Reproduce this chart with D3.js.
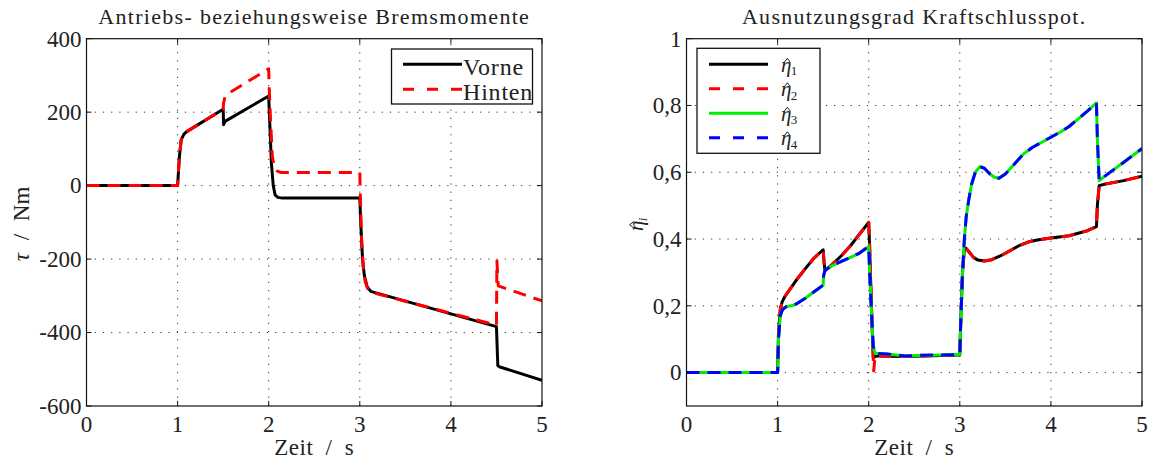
<!DOCTYPE html>
<meta charset="utf-8">
<head>
	<title>Antriebsmomente und Kraftschluss</title>
</head>

<style>
	body { margin: 0; background: #fff; }
	svg text { font-family: "Liberation Serif", "DejaVu Serif", serif; fill: #222; }
	.grid line { stroke: #333; stroke-width: 1; stroke-dasharray: 1.2,7; }
	.frame { fill: none; stroke: #111; stroke-width: 1.2; }
	.tick { stroke: #111; stroke-width: 1; }
</style>

<body>

<svg id="chart" width="1156" height="463" font-family="Liberation Serif, serif"></svg>

<script src="https://d3js.org/d3.v7.min.js"></script>
<script>

	// linkes Diagramm: Momente in Nm
	var tVorne = [0, 1.0, 1.02, 1.04, 1.07, 1.1, 1.5, 1.505, 1.52, 2.0, 2.01, 2.03, 2.05, 2.07, 2.1, 2.15, 3.0, 3.01, 3.03, 3.05, 3.08, 3.12, 4.5, 4.515, 4.53, 5.0];
	var tauVorne = [0, 0, 80, 125, 140, 147, 208, 166, 175, 244, 180, 60, 0, -25, -32, -34, -34, -100, -200, -245, -275, -288, -384, -490, -493, -530];

	var tHinten = [0, 1.0, 1.02, 1.04, 1.07, 1.1, 1.5, 1.505, 1.52, 1.55, 2.0, 2.003, 2.02, 2.04, 2.06, 2.09, 2.13, 3.0, 3.005, 3.02, 3.04, 3.06, 3.09, 3.12, 4.5, 4.505, 4.52, 5.0];
	var tauHinten = [0, 0, 80, 125, 140, 147, 208, 225, 242, 250, 318, 280, 180, 80, 50, 40, 36, 36, -20, -150, -230, -262, -282, -290, -380, -205, -273, -314];

	// rechtes Diagramm: Ausnutzungsgrade
	var tEta1 = [0, 1.0, 1.01, 1.03, 1.05, 1.08, 1.1, 1.15, 1.2, 1.3, 1.4, 1.5, 1.51, 1.52, 1.6, 1.7, 1.8, 1.9, 2.0, 2.01, 2.03, 2.05, 2.07, 2.1, 2.2, 2.4, 2.6, 3.0, 3.01, 3.03, 3.05, 3.07, 3.1, 3.15, 3.2, 3.27, 3.35, 3.45, 3.55, 3.65, 3.75, 3.85, 4.0, 4.2, 4.4, 4.5, 4.51, 4.53, 4.6, 4.8, 5.0];
	var eta1 = [0, 0, 0.12, 0.19, 0.212, 0.228, 0.236, 0.255, 0.275, 0.31, 0.343, 0.368, 0.33, 0.305, 0.324, 0.35, 0.38, 0.415, 0.45, 0.38, 0.2, 0.045, 0.048, 0.05, 0.049, 0.048, 0.05, 0.053, 0.15, 0.3, 0.37, 0.372, 0.362, 0.345, 0.337, 0.334, 0.338, 0.35, 0.365, 0.38, 0.391, 0.397, 0.403, 0.41, 0.425, 0.437, 0.5, 0.56, 0.565, 0.575, 0.588];

	var tEta2 = [0, 1.0, 1.01, 1.03, 1.05, 1.08, 1.1, 1.15, 1.2, 1.3, 1.4, 1.5, 1.51, 1.52, 1.6, 1.7, 1.8, 1.9, 2.0, 2.01, 2.03, 2.055, 2.07, 2.1, 2.2, 2.4, 2.6, 3.0, 3.01, 3.03, 3.05, 3.07, 3.1, 3.15, 3.2, 3.27, 3.35, 3.45, 3.55, 3.65, 3.75, 3.85, 4.0, 4.2, 4.4, 4.5, 4.51, 4.53, 4.6, 4.8, 5.0];
	var eta2 = [0, 0, 0.12, 0.19, 0.212, 0.228, 0.236, 0.255, 0.275, 0.31, 0.343, 0.368, 0.33, 0.305, 0.324, 0.35, 0.38, 0.415, 0.45, 0.38, 0.2, 0.005, 0.05, 0.05, 0.049, 0.048, 0.05, 0.053, 0.15, 0.3, 0.37, 0.372, 0.362, 0.345, 0.337, 0.334, 0.338, 0.35, 0.365, 0.38, 0.391, 0.397, 0.403, 0.41, 0.425, 0.437, 0.5, 0.56, 0.565, 0.575, 0.588];

	var tEta3 = [0, 1.0, 1.01, 1.03, 1.05, 1.07, 1.1, 1.15, 1.2, 1.3, 1.4, 1.5, 1.505, 1.52, 1.6, 1.7, 1.8, 1.9, 2.0, 2.01, 2.03, 2.05, 2.07, 2.1, 2.2, 2.4, 2.6, 2.8, 3.0, 3.01, 3.03, 3.05, 3.07, 3.1, 3.13, 3.17, 3.22, 3.27, 3.33, 3.38, 3.43, 3.5, 3.6, 3.7, 3.8, 3.9, 4.0, 4.1, 4.2, 4.3, 4.4, 4.5, 4.51, 4.53, 4.6, 4.8, 5.0];
	var eta3 = [0, 0, 0.1, 0.17, 0.186, 0.193, 0.198, 0.2, 0.205, 0.222, 0.242, 0.262, 0.29, 0.307, 0.32, 0.333, 0.345, 0.358, 0.378, 0.3, 0.18, 0.08, 0.058, 0.057, 0.056, 0.05, 0.052, 0.053, 0.054, 0.15, 0.3, 0.4, 0.466, 0.52, 0.565, 0.6, 0.617, 0.612, 0.595, 0.585, 0.582, 0.595, 0.625, 0.655, 0.675, 0.69, 0.705, 0.72, 0.737, 0.76, 0.783, 0.808, 0.7, 0.575, 0.59, 0.63, 0.671];

	var tEta4 = tEta3.slice();
	var eta4 = [0, 0, 0.1, 0.17, 0.186, 0.193, 0.198, 0.2, 0.205, 0.222, 0.242, 0.262, 0.29, 0.307, 0.32, 0.333, 0.345, 0.358, 0.378, 0.3, 0.18, 0.08, 0.058, 0.057, 0.056, 0.05, 0.052, 0.053, 0.054, 0.15, 0.3, 0.4, 0.466, 0.52, 0.565, 0.6, 0.617, 0.612, 0.595, 0.585, 0.582, 0.595, 0.625, 0.655, 0.675, 0.69, 0.705, 0.72, 0.737, 0.76, 0.783, 0.808, 0.7, 0.575, 0.59, 0.63, 0.671];

	var timeTicks = [0, 1, 2, 3, 4, 5];
	var tauTicks = [-600, -400, -200, 0, 200, 400];
	var etaTicks = [0, 0.2, 0.4, 0.6, 0.8, 1];

	var svg = d3.select("#chart");

	function zip(ts, vs) {
		return ts.map(function(t, i) { return [t, vs[i]]; });
	}

	function drawPanel(p) {
		var x = d3.scaleLinear().domain([0, 5]).range([p.left, p.right]);
		var y = d3.scaleLinear().domain(p.yDomain).range([406, 38.7]);
		var g = svg.append("g");

		// Gitter
		var grid = g.append("g").classed("grid", true);
		grid.selectAll(".gx").data(timeTicks.slice(1, -1)).enter().append("line")
			.attr("x1", function(d) { return x(d); }).attr("x2", function(d) { return x(d); })
			.attr("y1", y.range()[0]).attr("y2", y.range()[1]);
		grid.selectAll(".gy").data(p.yTicks.filter(function(d) { return y(d) > 40 && y(d) < 404; })).enter().append("line")
			.attr("x1", p.left).attr("x2", p.right)
			.attr("y1", function(d) { return y(d); }).attr("y2", function(d) { return y(d); });

		// kleine Ticks innen, auf allen vier Seiten
		timeTicks.forEach(function(d) {
			g.append("line").classed("tick", true).attr("x1", x(d)).attr("x2", x(d)).attr("y1", 406).attr("y2", 401);
			g.append("line").classed("tick", true).attr("x1", x(d)).attr("x2", x(d)).attr("y1", 38.7).attr("y2", 43.7);
			g.append("text").attr("x", x(d)).attr("y", 432).attr("text-anchor", "middle")
				.style("font-size", "23px").text(d);
		});
		p.yTicks.forEach(function(d) {
			g.append("line").classed("tick", true).attr("x1", p.left).attr("x2", p.left + 5).attr("y1", y(d)).attr("y2", y(d));
			g.append("line").classed("tick", true).attr("x1", p.right).attr("x2", p.right - 5).attr("y1", y(d)).attr("y2", y(d));
			g.append("text").attr("x", p.left - 5).attr("y", y(d)).attr("dy", "0.34em").attr("text-anchor", "end")
				.style("font-size", "23px").text(p.fmt(d));
		});

		// Kurven
		var clipId = "clip" + Math.round(p.left);
		g.append("clipPath").attr("id", clipId).append("rect")
			.attr("x", p.left).attr("y", 38.7).attr("width", p.right - p.left).attr("height", 406 - 38.7);
		var line = d3.line().x(function(d) { return x(d[0]); }).y(function(d) { return y(d[1]); });
		p.series.forEach(function(s) {
			g.append("path").datum(zip(s.t, s.v))
				.attr("clip-path", "url(#" + clipId + ")")
				.attr("d", line)
				.attr("fill", "none")
				.attr("stroke", s.color)
				.attr("stroke-width", 3)
				.attr("stroke-linejoin", "round")
				.attr("stroke-dasharray", s.dash ? "13,8" : null);
		});

		g.append("rect").classed("frame", true)
			.attr("x", p.left).attr("y", 38.7).attr("width", p.right - p.left).attr("height", 406 - 38.7);

		var mid = (p.left + p.right) / 2;
		g.append("text").attr("x", mid).attr("y", 24).attr("text-anchor", "middle")
			.style("font-size", "22px").style("letter-spacing", "1.3px").text(p.title);
		g.append("text").attr("x", mid).attr("y", 455).attr("text-anchor", "middle")
			.style("font-size", "23px").style("letter-spacing", "0.5px").style("word-spacing", "6px").text("Zeit / s");
		return g;
	}

	// eta mit Dach und Index; das Dach als kleiner Pfad
	function hatEta(g, xPos, yPos, sub, size, rotate) {
		var t = g.append("g").attr("transform", "translate(" + xPos + "," + yPos + ")" + (rotate ? " rotate(-90)" : ""));
		t.append("text").attr("x", 0).attr("y", 0).style("font-size", size + "px").style("font-style", "italic").text("η");
		var hx = size * 0.3, hy = -size * 0.44;
		t.append("path")
			.attr("d", "M" + (hx - size * 0.15) + "," + hy + "L" + hx + "," + (hy - size * 0.2) + "L" + (hx + size * 0.15) + "," + hy)
			.attr("fill", "none").attr("stroke", "#222").attr("stroke-width", 1);
		t.append("text").attr("x", size * 0.47).attr("y", size * 0.17).style("font-size", size * 0.62 + "px")
			.style("font-style", sub == "i" ? "italic" : "normal").text(sub);
	}

	var left = drawPanel({
		left: 86.5, right: 542, yDomain: [-600, 400], yTicks: tauTicks,
		fmt: function(d) { return d; },
		title: "Antriebs- beziehungsweise Bremsmomente",
		series: [
			{ t: tVorne, v: tauVorne, color: "#000", dash: false },
			{ t: tHinten, v: tauHinten, color: "#ff0000", dash: true }
		]
	});

	var right = drawPanel({
		left: 686.5, right: 1142, yDomain: [-0.1, 1], yTicks: etaTicks,
		fmt: function(d) { return d3.format("")(d).replace(".", ","); },
		title: "Ausnutzungsgrad Kraftschlusspot.",
		series: [
			{ t: tEta1, v: eta1, color: "#000", dash: false },
			{ t: tEta2, v: eta2, color: "#ff0000", dash: true },
			{ t: tEta3, v: eta3, color: "#00ee00", dash: false },
			{ t: tEta4, v: eta4, color: "#0000ff", dash: true }
		]
	});

	// Achsbeschriftungen y
	left.append("text").attr("transform", "translate(29,224) rotate(-90)").attr("text-anchor", "middle")
		.style("font-size", "23px").style("word-spacing", "7px")
		.html('<tspan font-style="italic">τ</tspan> / Nm');
	hatEta(right, 643, 231, "i", 21, true);

	// Legenden
	var legL = [{ name: "Vorne", color: "#000", dash: false }, { name: "Hinten", color: "#ff0000", dash: true }];
	left.append("rect").attr("x", 391.5).attr("y", 49).attr("width", 141).attr("height", 55)
		.attr("fill", "#fff").attr("stroke", "#111").attr("stroke-width", 1.3);
	legL.forEach(function(d, i) {
		var yy = 64.3 + i * 25;
		left.append("line").attr("x1", 403).attr("x2", 462).attr("y1", yy).attr("y2", yy)
			.attr("stroke", d.color).attr("stroke-width", 3).attr("stroke-dasharray", d.dash ? "11,13" : null);
		left.append("text").attr("x", 463).attr("y", yy + 10.5).style("font-size", "24px")
			.style("letter-spacing", "0.8px").text(d.name);
	});

	var legR = [{ sub: "1", color: "#000", dash: false }, { sub: "2", color: "#ff0000", dash: true },
		{ sub: "3", color: "#00ee00", dash: false }, { sub: "4", color: "#0000ff", dash: true }];
	right.append("rect").attr("x", 697).attr("y", 48.3).attr("width", 123).attr("height", 105)
		.attr("fill", "#fff").attr("stroke", "#111").attr("stroke-width", 1.3);
	legR.forEach(function(d, i) {
		var yy = 64.3 + i * 24.5;
		right.append("line").attr("x1", 709).attr("x2", 768).attr("y1", yy).attr("y2", yy)
			.attr("stroke", d.color).attr("stroke-width", 3).attr("stroke-dasharray", d.dash ? "11,13" : null);
		hatEta(right, 781, yy + 7.4, d.sub, 21, false);
	});

</script>
</body>
</html>
